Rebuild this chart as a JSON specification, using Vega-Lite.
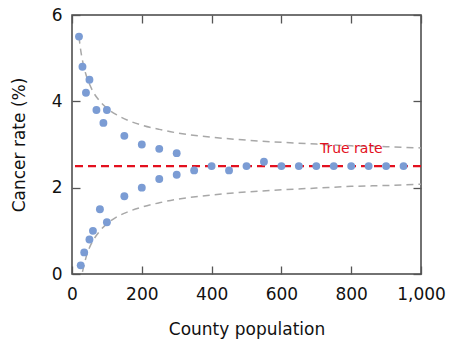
{
  "$schema": "https://vega.github.io/schema/vega-lite/v6.json",
  "width": 349,
  "height": 259,
  "autosize": "none",
  "padding": {"left": 72, "top": 15, "right": 28, "bottom": 67},
  "background": "white",
  "config": {
    "font": "DejaVu Sans",
    "view": {"stroke": "#444444", "strokeWidth": 1.5},
    "axis": {
      "labelFont": "DejaVu Sans",
      "titleFont": "DejaVu Sans",
      "labelFontSize": 17,
      "titleFontSize": 17,
      "titleFontWeight": "normal",
      "labelColor": "#111111",
      "titleColor": "#111111",
      "gridColor": "#e6e6e6",
      "gridWidth": 1,
      "domain": false,
      "tickColor": "#555555",
      "tickWidth": 1.3
    }
  },
  "datasets": {
    "counties": [
      {"pop": 20, "rate": 5.5}, {"pop": 30, "rate": 4.8}, {"pop": 40, "rate": 4.2},
      {"pop": 50, "rate": 4.5}, {"pop": 70, "rate": 3.8}, {"pop": 90, "rate": 3.5},
      {"pop": 100, "rate": 3.8}, {"pop": 150, "rate": 3.2}, {"pop": 200, "rate": 3.0},
      {"pop": 250, "rate": 2.9}, {"pop": 300, "rate": 2.8},
      {"pop": 25, "rate": 0.2}, {"pop": 35, "rate": 0.5}, {"pop": 50, "rate": 0.8},
      {"pop": 60, "rate": 1.0}, {"pop": 80, "rate": 1.5}, {"pop": 100, "rate": 1.2},
      {"pop": 150, "rate": 1.8}, {"pop": 200, "rate": 2.0}, {"pop": 250, "rate": 2.2},
      {"pop": 300, "rate": 2.3}, {"pop": 350, "rate": 2.4}, {"pop": 400, "rate": 2.5},
      {"pop": 450, "rate": 2.4}, {"pop": 500, "rate": 2.5}, {"pop": 550, "rate": 2.6},
      {"pop": 600, "rate": 2.5}, {"pop": 650, "rate": 2.5}, {"pop": 700, "rate": 2.5},
      {"pop": 750, "rate": 2.5}, {"pop": 800, "rate": 2.5}, {"pop": 850, "rate": 2.5},
      {"pop": 900, "rate": 2.5}, {"pop": 950, "rate": 2.5}
    ],
    "bounds": [
      {"side": "upper", "pop": 20, "rate": 5.50}, {"side": "upper", "pop": 25, "rate": 5.18},
      {"side": "upper", "pop": 30, "rate": 4.95}, {"side": "upper", "pop": 40, "rate": 4.62},
      {"side": "upper", "pop": 50, "rate": 4.40}, {"side": "upper", "pop": 60, "rate": 4.23},
      {"side": "upper", "pop": 80, "rate": 4.00}, {"side": "upper", "pop": 100, "rate": 3.84},
      {"side": "upper", "pop": 130, "rate": 3.68}, {"side": "upper", "pop": 160, "rate": 3.56},
      {"side": "upper", "pop": 200, "rate": 3.45}, {"side": "upper", "pop": 250, "rate": 3.35},
      {"side": "upper", "pop": 300, "rate": 3.27}, {"side": "upper", "pop": 400, "rate": 3.17},
      {"side": "upper", "pop": 500, "rate": 3.10}, {"side": "upper", "pop": 600, "rate": 3.05},
      {"side": "upper", "pop": 700, "rate": 3.01}, {"side": "upper", "pop": 800, "rate": 2.97},
      {"side": "upper", "pop": 900, "rate": 2.95}, {"side": "upper", "pop": 1000, "rate": 2.92},
      {"side": "lower", "pop": 30, "rate": 0.05}, {"side": "lower", "pop": 40, "rate": 0.38},
      {"side": "lower", "pop": 50, "rate": 0.61}, {"side": "lower", "pop": 60, "rate": 0.77},
      {"side": "lower", "pop": 80, "rate": 1.00}, {"side": "lower", "pop": 100, "rate": 1.16},
      {"side": "lower", "pop": 130, "rate": 1.33}, {"side": "lower", "pop": 160, "rate": 1.44},
      {"side": "lower", "pop": 200, "rate": 1.55}, {"side": "lower", "pop": 250, "rate": 1.65},
      {"side": "lower", "pop": 300, "rate": 1.73}, {"side": "lower", "pop": 400, "rate": 1.83},
      {"side": "lower", "pop": 500, "rate": 1.90}, {"side": "lower", "pop": 600, "rate": 1.95},
      {"side": "lower", "pop": 700, "rate": 1.99}, {"side": "lower", "pop": 800, "rate": 2.03},
      {"side": "lower", "pop": 900, "rate": 2.05}, {"side": "lower", "pop": 1000, "rate": 2.08}
    ],
    "truth": [{"pop": 800, "rate": 2.5, "label": "True rate", "labelRate": 2.89}]
  },
  "layer": [
    {
      "data": {"name": "bounds"},
      "mark": {"type": "line", "color": "#a8a8a8", "strokeWidth": 1.5, "strokeDash": [7, 5], "interpolate": "monotone"},
      "encoding": {
        "x": {"field": "pop", "type": "quantitative", "scale": {"domain": [0, 1000], "nice": false},
              "axis": {"orient": "top", "labels": false, "title": null, "grid": false, "values": [0, 200, 400, 600, 800, 1000], "tickSize": -8}},
        "y": {"field": "rate", "type": "quantitative", "scale": {"domain": [0, 6], "nice": false},
              "axis": {"orient": "right", "labels": false, "title": null, "grid": false, "values": [0, 2, 4, 6], "tickSize": -8}},
        "detail": {"field": "side"}
      }
    },
    {
      "data": {"name": "truth"},
      "mark": {"type": "rule", "color": "#e3101e", "strokeWidth": 2.2, "strokeDash": [8, 5]},
      "encoding": {
        "y": {"field": "rate", "type": "quantitative", "axis": null}
      }
    },
    {
      "data": {"name": "counties"},
      "mark": {"type": "point", "filled": true, "color": "#7b9cd4", "opacity": 1, "size": 62},
      "encoding": {
        "x": {"field": "pop", "type": "quantitative",
              "axis": {"orient": "bottom", "title": "County population", "format": ",d", "values": [0, 200, 400, 600, 800, 1000], "tickSize": -8, "labelPadding": 20, "titlePadding": 19, "labelFlush": false}},
        "y": {"field": "rate", "type": "quantitative",
              "axis": {"orient": "left", "title": "Cancer rate (%)", "values": [0, 2, 4, 6], "tickSize": -8, "labelPadding": 18, "titlePadding": 23}}
      }
    },
    {
      "data": {"name": "truth"},
      "mark": {"type": "text", "color": "#e3101e", "fontSize": 14, "align": "center", "baseline": "middle"},
      "encoding": {
        "x": {"field": "pop", "type": "quantitative", "axis": null},
        "y": {"field": "labelRate", "type": "quantitative", "axis": null},
        "text": {"field": "label"}
      }
    }
  ],
  "resolve": {"axis": {"x": "independent", "y": "independent"}}
}
